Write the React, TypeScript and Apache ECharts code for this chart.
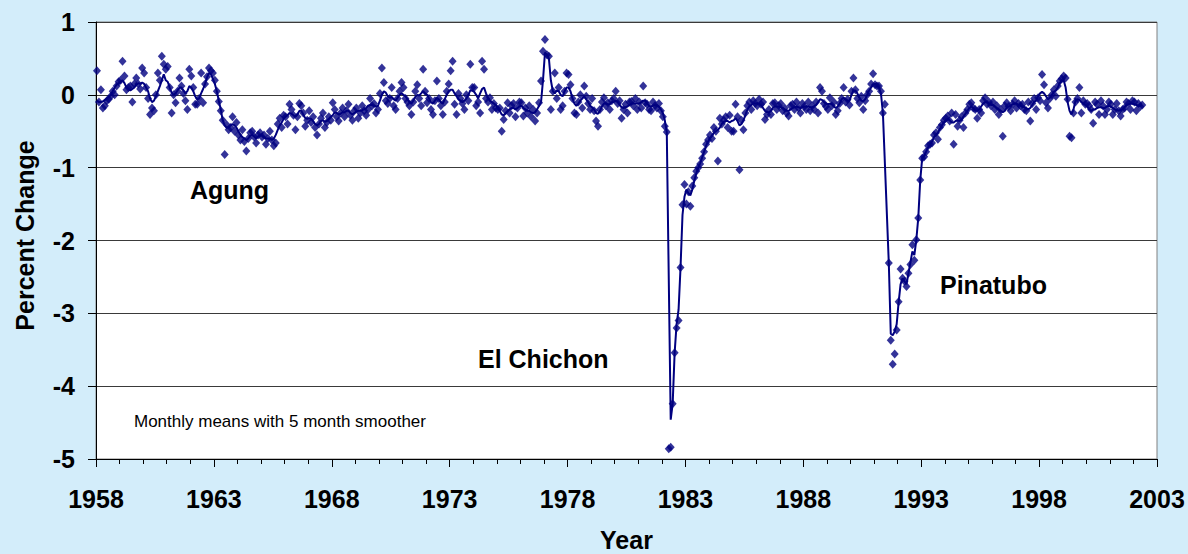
import React, { useEffect, useRef } from "react";
import * as echarts from "echarts";

const startYear = 1958;
const FONT = 'Arial, "Liberation Sans", sans-serif';
const NAVY = "#000080";

// Monthly means (percent change), one row per year, Jan..Dec
const monthlyMeans: (number | null)[][] = [
  [0.33, -0.1, 0.07, -0.18, -0.15, -0.08, -0.06, -0.02, 0.05, 0.0, 0.12, 0.18], // 1958
  [0.2, 0.46, 0.26, 0.07, 0.1, 0.12, -0.1, 0.15, 0.23, 0.15, 0.08, 0.37],
  [0.3, 0.1, -0.05, -0.27, -0.18, -0.22, 0.0, 0.3, 0.2, 0.53, 0.42, 0.35], // 1960
  [0.39, 0.1, -0.25, 0.0, -0.11, 0.05, 0.23, 0.12, 0.02, -0.08, -0.2, 0.35],
  [0.26, 0.1, -0.13, -0.13, -0.05, 0.3, -0.11, 0.15, 0.25, 0.37, 0.33, 0.3],
  [0.2, 0.05, -0.09, -0.22, -0.35, -0.82, -0.41, -0.48, -0.45, -0.3, -0.5, -0.38],
  [-0.55, -0.62, -0.48, -0.64, -0.77, -0.6, -0.52, -0.5, -0.58, -0.66, -0.55, -0.52],
  [-0.58, -0.55, -0.68, -0.6, -0.5, -0.62, -0.7, -0.66, -0.4, -0.32, -0.45, -0.28], // 1965
  [-0.3, -0.4, -0.13, -0.2, -0.28, -0.48, -0.3, -0.12, -0.15, -0.25, -0.43, -0.35],
  [-0.22, -0.38, -0.3, -0.45, -0.55, -0.4, -0.32, -0.25, -0.45, -0.38, -0.3, -0.35],
  [-0.11, -0.2, -0.3, -0.36, -0.25, -0.18, -0.3, -0.22, -0.13, -0.28, -0.35, -0.22],
  [-0.18, -0.32, -0.25, -0.15, -0.22, -0.28, -0.2, -0.05, -0.15, -0.12, -0.25, -0.2],
  [0.02, 0.37, 0.17, -0.08, -0.12, -0.05, 0.1, -0.15, -0.2, -0.05, 0.05, 0.17], // 1970
  [0.1, -0.05, -0.1, -0.15, -0.27, -0.1, 0.05, 0.14, -0.05, -0.15, 0.35, 0.05],
  [-0.11, -0.05, -0.2, -0.27, -0.08, 0.19, -0.05, -0.15, -0.27, -0.1, 0.05, 0.15],
  [0.33, 0.46, -0.13, -0.27, 0.02, -0.05, -0.12, -0.2, 0.0, -0.08, 0.42, 0.1],
  [0.1, -0.15, -0.1, -0.25, 0.46, 0.35, -0.05, -0.1, -0.04, -0.2, -0.12, -0.18],
  [-0.2, -0.18, -0.5, -0.34, -0.22, -0.11, -0.25, -0.15, -0.12, -0.3, -0.18, -0.1], // 1975
  [-0.11, -0.29, -0.18, -0.25, -0.15, -0.3, -0.2, -0.36, -0.25, -0.11, 0.19, 0.6],
  [0.76, 0.55, 0.53, -0.2, 0.05, 0.3, -0.05, 0.1, -0.2, -0.15, 0.05, 0.3],
  [0.28, 0.14, -0.05, -0.25, -0.27, -0.1, 0.0, -0.18, 0.12, -0.02, -0.12, -0.2],
  [-0.05, -0.22, -0.36, -0.43, -0.2, -0.1, -0.04, -0.15, -0.11, -0.2, -0.08, -0.05],
  [0.05, -0.12, -0.08, -0.32, -0.2, -0.13, -0.25, -0.1, -0.09, -0.15, -0.05, -0.2], // 1980
  [-0.1, -0.18, 0.12, -0.11, -0.13, -0.2, -0.22, -0.1, -0.15, -0.18, -0.12, -0.22],
  [-0.3, -0.43, -0.51, -4.86, -4.84, -4.24, -3.54, -3.2, -3.1, -2.37, -1.51, -1.23],
  [-1.5, -1.33, -1.53, -1.25, -1.14, -1.05, -1.0, -0.95, -0.87, -0.78, -0.68, -0.62],
  [-0.55, -0.6, -0.45, -0.5, -0.91, -0.32, -0.4, -0.35, -0.3, -0.45, -0.28, -0.5],
  [-0.5, -0.13, -0.3, -1.03, -0.35, -0.48, -0.25, -0.15, -0.1, -0.2, -0.08, -0.12], // 1985
  [-0.15, -0.06, -0.13, -0.1, -0.34, -0.27, -0.2, -0.27, -0.12, -0.11, -0.2, -0.15],
  [-0.12, -0.22, -0.18, -0.25, -0.29, -0.15, -0.13, -0.2, -0.1, -0.18, -0.25, -0.12],
  [-0.16, -0.2, -0.1, -0.22, -0.15, -0.2, -0.1, -0.25, 0.1, 0.05, -0.12, -0.16],
  [-0.2, -0.04, -0.15, -0.1, -0.27, -0.22, -0.12, -0.05, 0.1, -0.1, -0.06, -0.14],
  [0.05, 0.23, 0.07, -0.05, -0.11, -0.02, -0.2, -0.08, 0.0, 0.05, 0.15, 0.29], // 1990
  [0.14, 0.12, 0.12, 0.05, -0.25, -0.13, null, -2.31, -3.37, -3.7, -3.56, -3.23],
  [-2.84, -2.39, -2.52, -2.56, -2.63, -2.45, -2.33, -2.06, -2.27, -1.99, -1.69, -1.17],
  [-0.87, -0.85, -0.78, -0.7, -0.68, -0.66, -0.55, -0.52, -0.61, -0.45, -0.41, -0.35],
  [-0.32, -0.29, -0.36, -0.25, -0.68, -0.27, -0.43, -0.35, -0.3, -0.45, -0.25, -0.2],
  [-0.13, -0.11, -0.18, -0.2, -0.32, -0.2, -0.25, -0.08, -0.04, -0.13, -0.1, -0.15], // 1995
  [-0.1, -0.2, -0.15, -0.27, -0.2, -0.57, -0.15, -0.11, -0.16, -0.22, -0.13, -0.08],
  [-0.18, -0.12, -0.15, -0.13, -0.2, -0.22, -0.1, -0.36, -0.12, -0.05, -0.2, -0.04],
  [-0.08, 0.28, 0.14, -0.11, -0.18, -0.05, 0.0, 0.07, -0.02, 0.12, 0.19, 0.22],
  [0.26, 0.23, -0.06, -0.57, -0.59, -0.25, -0.1, -0.05, 0.1, -0.25, -0.08, -0.13],
  [-0.12, -0.15, -0.2, -0.39, -0.1, -0.13, -0.27, -0.08, -0.15, -0.27, -0.2, -0.1], // 2000
  [-0.13, -0.27, -0.2, -0.12, -0.22, -0.29, -0.2, -0.18, -0.1, -0.12, -0.2, -0.08],
  [-0.1, -0.22, -0.12, -0.16, -0.14],
];

// 5 month smoother, one row per year, Jan..Dec
const smoothed: (number | null)[][] = [
  [-0.08, -0.1, -0.1, -0.09, -0.07, -0.05, -0.03, 0.0, 0.05, 0.1, 0.14, 0.16], // 1958
  [0.18, 0.2, 0.16, 0.1, 0.08, 0.06, 0.08, 0.1, 0.14, 0.16, 0.15, 0.17],
  [0.15, 0.1, 0.05, -0.05, -0.1, -0.08, -0.02, 0.05, 0.12, 0.2, 0.28, 0.2], // 1960
  [0.18, 0.1, 0.03, 0.0, 0.02, 0.06, 0.1, 0.1, 0.06, 0.02, 0.05, 0.12],
  [0.1, 0.05, -0.02, -0.06, -0.05, 0.02, 0.08, 0.15, 0.24, 0.3, 0.28, 0.22],
  [0.15, 0.05, -0.08, -0.2, -0.35, -0.42, -0.45, -0.45, -0.42, -0.4, -0.42, -0.45],
  [-0.5, -0.55, -0.58, -0.6, -0.62, -0.6, -0.56, -0.55, -0.57, -0.6, -0.57, -0.55],
  [-0.56, -0.58, -0.6, -0.6, -0.6, -0.62, -0.6, -0.55, -0.48, -0.42, -0.38, -0.33], // 1965
  [-0.3, -0.28, -0.25, -0.26, -0.28, -0.3, -0.27, -0.22, -0.22, -0.27, -0.32, -0.33],
  [-0.32, -0.33, -0.36, -0.4, -0.42, -0.4, -0.36, -0.35, -0.37, -0.36, -0.33, -0.3],
  [-0.28, -0.24, -0.25, -0.27, -0.26, -0.24, -0.24, -0.22, -0.22, -0.25, -0.27, -0.25],
  [-0.23, -0.22, -0.22, -0.21, -0.2, -0.18, -0.15, -0.14, -0.14, -0.15, -0.16, -0.15],
  [-0.08, 0.0, 0.05, 0.03, -0.02, -0.04, -0.03, -0.06, -0.08, -0.04, 0.0, 0.02], // 1970
  [0.0, -0.02, -0.06, -0.1, -0.12, -0.08, -0.03, 0.0, -0.01, 0.02, 0.05, 0.02],
  [0.0, -0.05, -0.1, -0.12, -0.08, -0.04, -0.06, -0.1, -0.12, -0.06, 0.0, 0.05],
  [0.07, 0.07, 0.02, -0.02, -0.06, -0.08, -0.1, -0.08, -0.05, 0.0, 0.06, 0.06],
  [0.04, 0.0, -0.05, 0.02, 0.08, 0.1, 0.02, -0.04, -0.08, -0.1, -0.12, -0.14],
  [-0.18, -0.22, -0.27, -0.28, -0.25, -0.22, -0.2, -0.18, -0.18, -0.2, -0.18, -0.16], // 1975
  [-0.15, -0.18, -0.2, -0.22, -0.22, -0.24, -0.25, -0.24, -0.2, -0.15, -0.1, 0.2],
  [0.58, 0.55, 0.5, 0.2, 0.05, 0.02, 0.06, 0.05, 0.0, -0.02, 0.05, 0.1],
  [0.1, 0.05, -0.05, -0.12, -0.15, -0.12, -0.08, -0.05, -0.02, -0.06, -0.1, -0.15],
  [-0.17, -0.2, -0.25, -0.26, -0.22, -0.16, -0.12, -0.12, -0.13, -0.13, -0.1, -0.1],
  [-0.08, -0.1, -0.14, -0.17, -0.18, -0.17, -0.16, -0.14, -0.12, -0.12, -0.12, -0.12], // 1980
  [-0.12, -0.1, -0.08, -0.08, -0.12, -0.15, -0.16, -0.15, -0.14, -0.15, -0.16, -0.2],
  [-0.25, -0.35, -0.51, -2.5, -4.46, -4.24, -3.54, -3.15, -2.95, -2.37, -1.65, -1.4],
  [-1.3, -1.35, -1.38, -1.3, -1.18, -1.08, -1.0, -0.94, -0.86, -0.78, -0.7, -0.64],
  [-0.6, -0.56, -0.52, -0.5, -0.48, -0.45, -0.4, -0.37, -0.36, -0.36, -0.38, -0.36],
  [-0.35, -0.32, -0.36, -0.42, -0.4, -0.35, -0.28, -0.2, -0.16, -0.14, -0.12, -0.12], // 1985
  [-0.12, -0.12, -0.14, -0.18, -0.22, -0.24, -0.24, -0.22, -0.18, -0.16, -0.16, -0.16],
  [-0.17, -0.18, -0.2, -0.22, -0.22, -0.2, -0.18, -0.17, -0.16, -0.17, -0.18, -0.17],
  [-0.16, -0.16, -0.16, -0.17, -0.17, -0.16, -0.14, -0.1, -0.06, -0.07, -0.1, -0.12],
  [-0.13, -0.12, -0.13, -0.16, -0.18, -0.16, -0.12, -0.06, -0.04, -0.06, -0.08, -0.08],
  [0.0, 0.06, 0.06, 0.02, -0.04, -0.08, -0.09, -0.06, 0.0, 0.06, 0.1, 0.14], // 1990
  [0.15, 0.14, 0.1, 0.02, -0.25, null, null, -2.31, -3.28, -3.3, -3.25, -3.15],
  [-2.85, -2.6, -2.52, -2.56, -2.6, -2.45, -2.3, -2.15, -2.2, -1.99, -1.69, -1.17],
  [-0.87, -0.84, -0.78, -0.72, -0.68, -0.64, -0.58, -0.55, -0.52, -0.47, -0.42, -0.38],
  [-0.35, -0.33, -0.35, -0.38, -0.38, -0.36, -0.35, -0.36, -0.34, -0.3, -0.26, -0.22],
  [-0.18, -0.16, -0.18, -0.22, -0.22, -0.2, -0.16, -0.12, -0.1, -0.1, -0.12, -0.14], // 1995
  [-0.14, -0.16, -0.18, -0.2, -0.22, -0.24, -0.22, -0.18, -0.16, -0.15, -0.13, -0.12],
  [-0.12, -0.14, -0.15, -0.16, -0.17, -0.19, -0.2, -0.18, -0.14, -0.1, -0.08, -0.02],
  [0.02, 0.04, 0.02, -0.02, -0.06, -0.04, 0.0, 0.04, 0.06, 0.1, 0.16, 0.2],
  [0.2, 0.1, -0.1, -0.22, -0.27, -0.2, -0.08, -0.06, -0.07, -0.1, -0.12, -0.14],
  [-0.16, -0.2, -0.22, -0.2, -0.2, -0.18, -0.17, -0.17, -0.18, -0.18, -0.16, -0.15], // 2000
  [-0.16, -0.18, -0.2, -0.21, -0.22, -0.21, -0.2, -0.17, -0.14, -0.13, -0.12, -0.12],
  [-0.13, -0.14, -0.15, -0.15, -0.14],
];

const xMin = 1958;
const xMax = 2003;
const xInterval = 5;
const yMin = -5;
const yMax = 1;
const yInterval = 1;

const volcanoLabels = ["Agung", "El Chichon", "Pinatubo"];
const noteText = "Monthly means with 5 month smoother";

function toPoints(rows: (number | null)[][]): [number, number][] {
  const out: [number, number][] = [];
  rows.forEach((row, yi) =>
    row.forEach((v, m) => {
      if (v !== null) out.push([startYear + yi + (m + 0.5) / 12, v]);
    })
  );
  return out;
}

export default function App() {
  const ref = useRef<HTMLDivElement>(null);

  useEffect(() => {
    document.body.style.margin = "0";
    if (!ref.current) return;
    const chart = echarts.init(ref.current, null, { renderer: "svg" });
    const bold = { fontFamily: FONT, fontWeight: "bold" as const, fontSize: 25, color: "#000" };
    chart.setOption({
      animation: false,
      grid: {
        left: 96,
        right: 31,
        top: 22,
        bottom: 95,
        outerBoundsMode: "none",
        containLabel: false,
        show: true,
        backgroundColor: "#ffffff",
        borderColor: "#808080",
        borderWidth: 1,
      },
      xAxis: {
        type: "value",
        min: xMin,
        max: xMax,
        interval: xInterval,
        name: "Year",
        nameLocation: "middle",
        nameGap: 68,
        nameTextStyle: { ...bold, lineHeight: 25 },
        axisLine: { show: true, onZero: false, lineStyle: { color: "#000", width: 1 } },
        axisTick: { show: true, length: 8, lineStyle: { color: "#000" } },
        minorTick: { show: true, splitNumber: 5, length: 5, lineStyle: { color: "#000" } },
        splitLine: { show: false },
        axisLabel: { ...bold, margin: 27, formatter: (v: number) => String(v) },
      },
      yAxis: {
        type: "value",
        min: yMin,
        max: yMax,
        interval: yInterval,
        name: "Percent Change",
        nameLocation: "middle",
        nameGap: 59,
        nameTextStyle: { ...bold, padding: [0, 0, 0, 10] },
        axisLine: { show: true, lineStyle: { color: "#000", width: 1 } },
        axisTick: { show: true, length: 8, lineStyle: { color: "#000" } },
        splitLine: { show: true, lineStyle: { color: "#3a3a3a", width: 1 } },
        axisLabel: { ...bold, margin: 21, formatter: (v: number) => String(v) },
      },
      graphic: [
        { type: "text", left: 190, top: 177, style: { text: volcanoLabels[0], font: `bold 25px ${FONT}`, fill: "#000" } },
        { type: "text", left: 478, top: 346, style: { text: volcanoLabels[1], font: `bold 25px ${FONT}`, fill: "#000" } },
        { type: "text", left: 940, top: 272, style: { text: volcanoLabels[2], font: `bold 25px ${FONT}`, fill: "#000" } },
        { type: "text", left: 134, top: 413, style: { text: noteText, font: `17px ${FONT}`, fill: "#000" } },
      ],
      series: [
        {
          type: "line",
          data: toPoints(smoothed),
          showSymbol: false,
          symbol: "none",
          lineStyle: { color: NAVY, width: 2 },
          z: 2,
        },
        {
          type: "scatter",
          data: toPoints(monthlyMeans),
          symbol: "diamond",
          symbolSize: [8, 9],
          itemStyle: { color: NAVY },
          z: 3,
        },
      ],
    });
    return () => chart.dispose();
  }, []);

  return <div ref={ref} style={{ width: 1188, height: 554, background: "#D3EDFA" }} />;
}
